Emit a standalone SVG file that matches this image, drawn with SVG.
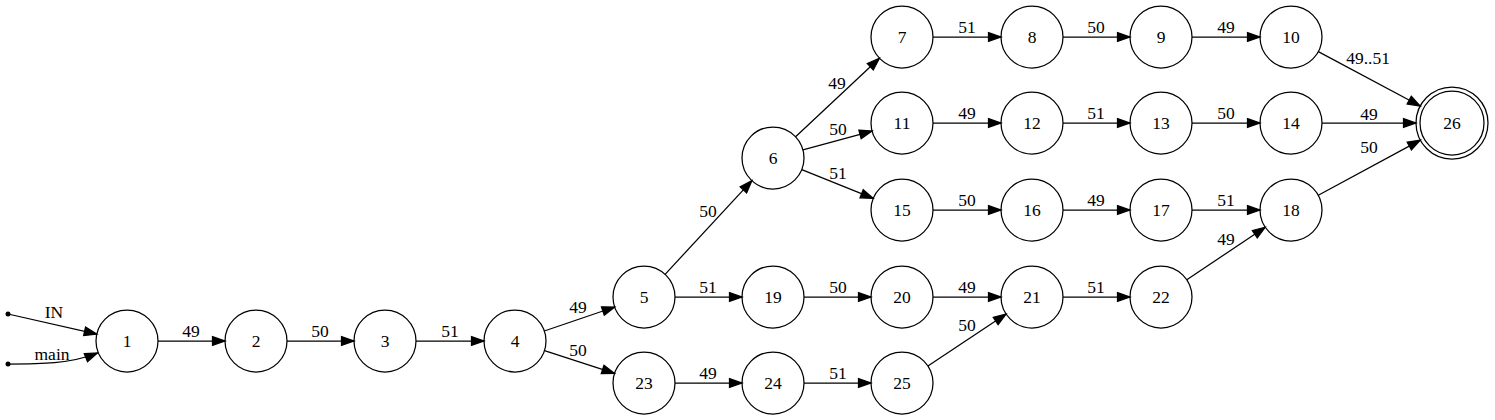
<svg xmlns="http://www.w3.org/2000/svg" width="1495" height="420" viewBox="0 0 1495 420">
<style>
.n{fill:none;stroke:#000;stroke-width:1.25}
.t{font-family:"Liberation Serif","Times New Roman",serif;font-size:17.5px;fill:#000;text-anchor:middle}
.e{fill:none;stroke:#000;stroke-width:1.25;marker-end:url(#a)}
</style>
<defs>
<marker id="a" markerUnits="userSpaceOnUse" markerWidth="13" markerHeight="9" refX="12.5" refY="4.4" orient="auto" overflow="visible">
<path d="M0,0 L12.5,4.4 L0,8.8 Z" fill="#000" stroke="#000" stroke-width="1.25"/>
</marker>
</defs>
<rect width="1495" height="420" fill="#fff"/>
<g id="connectors">
<circle cx="8" cy="314" r="2.5" fill="#000"/>
<circle cx="8" cy="364" r="2.5" fill="#000"/>
<path class="e" d="M8,314 L96.8,334.1"/><text class="t" x="54" y="318">IN</text>
<path class="e" d="M8,364 C40,364 70,364 97.5,353"/><text class="t" x="52" y="360">main</text>
<path class="e" d="M158,341 L225,341"/><text class="t" x="191" y="337">49</text>
<path class="e" d="M287,341 L354,341"/><text class="t" x="320" y="337">50</text>
<path class="e" d="M416,341 L484,341"/><text class="t" x="450" y="337">51</text>
<path class="e" d="M544.3,331 L614.7,307"/><text class="t" x="578" y="313">49</text>
<path class="e" d="M544.5,350.6 L614.5,373.4"/><text class="t" x="578" y="356">50</text>
<path class="e" d="M665.1,274.3 L751.9,180.7"/><text class="t" x="708" y="217">50</text>
<path class="e" d="M675,297 L742,297"/><text class="t" x="708" y="293">51</text>
<path class="e" d="M675,383 L742,383"/><text class="t" x="708" y="379">49</text>
<path class="e" d="M795.6,136.8 L879.4,58.2"/><text class="t" x="837" y="89">49</text>
<path class="e" d="M802.9,149.9 L872.1,131.1"/><text class="t" x="838" y="135">50</text>
<path class="e" d="M801.8,169.6 L873.2,198.4"/><text class="t" x="838" y="179">51</text>
<path class="e" d="M804,297 L871,297"/><text class="t" x="838" y="293">50</text>
<path class="e" d="M804,383 L871,383"/><text class="t" x="838" y="379">51</text>
<path class="e" d="M933,37 L1001,37"/><text class="t" x="967" y="33">51</text>
<path class="e" d="M933,123 L1001,123"/><text class="t" x="967" y="119">49</text>
<path class="e" d="M933,210 L1001,210"/><text class="t" x="967" y="206">50</text>
<path class="e" d="M933,297 L1001,297"/><text class="t" x="967" y="293">49</text>
<path class="e" d="M927.9,365.9 L1006.1,314.1"/><text class="t" x="967" y="331">50</text>
<path class="e" d="M1063,37 L1130,37"/><text class="t" x="1096" y="33">50</text>
<path class="e" d="M1063,123 L1130,123"/><text class="t" x="1096" y="119">51</text>
<path class="e" d="M1063,210 L1130,210"/><text class="t" x="1096" y="206">49</text>
<path class="e" d="M1063,297 L1130,297"/><text class="t" x="1096" y="293">51</text>
<path class="e" d="M1192,37 L1260,37"/><text class="t" x="1226" y="33">49</text>
<path class="e" d="M1192,123 L1260,123"/><text class="t" x="1226" y="119">50</text>
<path class="e" d="M1192,210 L1260,210"/><text class="t" x="1226" y="206">51</text>
<path class="e" d="M1186.8,279.8 L1265.2,227.2"/><text class="t" x="1226" y="245">49</text>
<path class="e" d="M1318.3,51.6 L1420.2,106"/><text class="t" x="1368" y="64">49..51</text>
<path class="e" d="M1322,123 L1416,123"/><text class="t" x="1369" y="120">49</text>
<path class="e" d="M1318.3,195.3 L1420.3,140.1"/><text class="t" x="1369" y="153">50</text>
</g>
<g id="node1"><circle class="n" cx="127" cy="341" r="31"/><text class="t" x="127" y="347">1</text></g>
<g id="node2"><circle class="n" cx="256" cy="341" r="31"/><text class="t" x="256" y="347">2</text></g>
<g id="node3"><circle class="n" cx="385" cy="341" r="31"/><text class="t" x="385" y="347">3</text></g>
<g id="node4"><circle class="n" cx="515" cy="341" r="31"/><text class="t" x="515" y="347">4</text></g>
<g id="node5"><circle class="n" cx="644" cy="297" r="31"/><text class="t" x="644" y="303">5</text></g>
<g id="node6"><circle class="n" cx="773" cy="158" r="31"/><text class="t" x="773" y="164">6</text></g>
<g id="node7"><circle class="n" cx="902" cy="37" r="31"/><text class="t" x="902" y="43">7</text></g>
<g id="node8"><circle class="n" cx="1032" cy="37" r="31"/><text class="t" x="1032" y="43">8</text></g>
<g id="node9"><circle class="n" cx="1161" cy="37" r="31"/><text class="t" x="1161" y="43">9</text></g>
<g id="node10"><circle class="n" cx="1291" cy="37" r="31"/><text class="t" x="1291" y="43">10</text></g>
<g id="node11"><circle class="n" cx="902" cy="123" r="31"/><text class="t" x="902" y="129">11</text></g>
<g id="node12"><circle class="n" cx="1032" cy="123" r="31"/><text class="t" x="1032" y="129">12</text></g>
<g id="node13"><circle class="n" cx="1161" cy="123" r="31"/><text class="t" x="1161" y="129">13</text></g>
<g id="node14"><circle class="n" cx="1291" cy="123" r="31"/><text class="t" x="1291" y="129">14</text></g>
<g id="node15"><circle class="n" cx="902" cy="210" r="31"/><text class="t" x="902" y="216">15</text></g>
<g id="node16"><circle class="n" cx="1032" cy="210" r="31"/><text class="t" x="1032" y="216">16</text></g>
<g id="node17"><circle class="n" cx="1161" cy="210" r="31"/><text class="t" x="1161" y="216">17</text></g>
<g id="node18"><circle class="n" cx="1291" cy="210" r="31"/><text class="t" x="1291" y="216">18</text></g>
<g id="node19"><circle class="n" cx="773" cy="297" r="31"/><text class="t" x="773" y="303">19</text></g>
<g id="node20"><circle class="n" cx="902" cy="297" r="31"/><text class="t" x="902" y="303">20</text></g>
<g id="node21"><circle class="n" cx="1032" cy="297" r="31"/><text class="t" x="1032" y="303">21</text></g>
<g id="node22"><circle class="n" cx="1161" cy="297" r="31"/><text class="t" x="1161" y="303">22</text></g>
<g id="node23"><circle class="n" cx="644" cy="383" r="31"/><text class="t" x="644" y="389">23</text></g>
<g id="node24"><circle class="n" cx="773" cy="383" r="31"/><text class="t" x="773" y="389">24</text></g>
<g id="node25"><circle class="n" cx="902" cy="383" r="31"/><text class="t" x="902" y="389">25</text></g>
<g id="node26"><circle class="n" cx="1452" cy="123" r="36"/><circle class="n" cx="1452" cy="123" r="32"/><text class="t" x="1452" y="129">26</text></g>
</svg>
